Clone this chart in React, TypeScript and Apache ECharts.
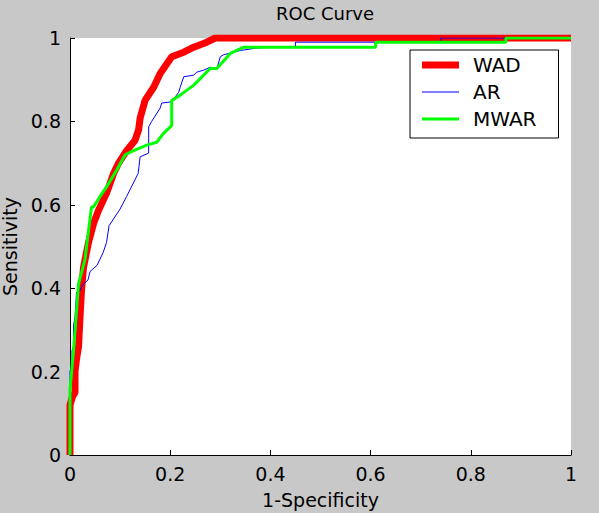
import React, { useEffect, useRef } from "react";
import * as echarts from "echarts";

const TITLE = "ROC Curve";
const X_NAME = "1-Specificity";
const Y_NAME = "Sensitivity";
const SERIES_NAMES = ["WAD", "AR", "MWAR"];

const WAD_X = [0, 0, 0.005, 0.01, 0.01, 0.013, 0.017, 0.02, 0.023, 0.027, 0.037, 0.047, 0.057, 0.073, 0.087, 0.097, 0.113, 0.13, 0.137, 0.14, 0.15, 0.167, 0.18, 0.203, 0.227, 0.247, 0.273, 0.29, 1];
const WAD_Y = [0, 0.12, 0.14, 0.15, 0.2, 0.23, 0.26, 0.33, 0.395, 0.45, 0.51, 0.555, 0.587, 0.628, 0.675, 0.7, 0.73, 0.755, 0.78, 0.808, 0.851, 0.882, 0.915, 0.955, 0.966, 0.978, 0.99, 1, 1];

const AR_X = [0, 0, 0, 0.004, 0.004, 0.007, 0.007, 0.01, 0.013, 0.02, 0.027, 0.036, 0.04, 0.054, 0.066, 0.073, 0.078, 0.1, 0.113, 0.136, 0.14, 0.157, 0.157, 0.163, 0.18, 0.183, 0.203, 0.217, 0.22, 0.227, 0.247, 0.253, 0.267, 0.28, 0.293, 0.3, 0.307, 0.34, 0.373, 0.45, 0.45, 0.74, 0.74, 1];
const AR_Y = [0, 0.19, 0.2, 0.22, 0.25, 0.26, 0.31, 0.33, 0.39, 0.395, 0.41, 0.42, 0.44, 0.455, 0.485, 0.51, 0.55, 0.59, 0.62, 0.675, 0.715, 0.724, 0.787, 0.8, 0.832, 0.844, 0.847, 0.87, 0.882, 0.907, 0.911, 0.918, 0.923, 0.93, 0.925, 0.955, 0.96, 0.97, 0.976, 0.98, 0.99, 0.99, 1, 1];

const MWAR_X = [0, 0, 0.007, 0.017, 0.03, 0.033, 0.043, 0.047, 0.06, 0.073, 0.093, 0.11, 0.127, 0.153, 0.173, 0.187, 0.203, 0.203, 0.22, 0.247, 0.28, 0.293, 0.32, 0.347, 0.61, 0.61, 0.87, 0.87, 1];
const MWAR_Y = [0, 0.156, 0.25, 0.41, 0.47, 0.5, 0.595, 0.595, 0.62, 0.643, 0.683, 0.72, 0.73, 0.743, 0.75, 0.772, 0.79, 0.85, 0.863, 0.887, 0.927, 0.927, 0.963, 0.978, 0.978, 0.99, 0.99, 1, 1];

const COLORS = ["#ff0000", "#0000ff", "#00ff00"];
const WIDTHS = [7, 1, 3];
const FONT = "DejaVu Sans";

function pairs(xs: number[], ys: number[]) {
  return xs.map((x, i) => [x, ys[i]]);
}

export default function App() {
  const ref = useRef<HTMLDivElement>(null);
  useEffect(() => {
    if (!ref.current) return;
    const chart = echarts.init(ref.current, null, { renderer: "svg" });
    const datas = [pairs(WAD_X, WAD_Y), pairs(AR_X, AR_Y), pairs(MWAR_X, MWAR_Y)];
    const axisCommon = {
      type: "value" as const,
      min: 0,
      max: 1,
      interval: 0.2,
      nameLocation: "middle" as const,
      nameTextStyle: { fontFamily: FONT, fontSize: 19, color: "#000" },
      axisLine: { show: true, lineStyle: { color: "#000", width: 1 } },
      axisTick: { show: true, inside: true, length: 5, lineStyle: { color: "#000" } },
      axisLabel: { fontFamily: FONT, fontSize: 19, color: "#000", margin: 9 },
      splitLine: { show: false },
    };
    chart.setOption({
      animation: false,
      backgroundColor: "#c8c8c8",
      title: {
        text: TITLE,
        left: 320,
        top: -1,
        textAlign: "center",
        textStyle: { fontFamily: FONT, fontSize: 18, fontWeight: "normal", color: "#000" },
      },
      grid: {
        left: 70,
        top: 38,
        width: 501,
        height: 417,
        show: true,
        backgroundColor: "#ffffff",
        borderWidth: 0,
        containLabel: false,
        outerBoundsMode: "none",
      },
      xAxis: { ...axisCommon, name: X_NAME, nameGap: 35 },
      yAxis: { ...axisCommon, name: Y_NAME, nameGap: 47 },
      legend: {
        orient: "vertical",
        left: 410,
        top: 50,
        padding: [5, 22, 9, 12],
        itemWidth: 37,
        itemHeight: 14,
        itemGap: 7,
        backgroundColor: "#ffffff",
        borderColor: "#000",
        borderWidth: 1,
        borderRadius: 0,
        textStyle: { fontFamily: FONT, fontSize: 20, color: "#000", padding: [0, 0, 0, 9] },
        data: SERIES_NAMES.map((n, i) => ({
          name: n,
          icon: "path://M0,0h37v" + WIDTHS[i] + "h-37z",
          itemStyle: { color: COLORS[i], borderWidth: 0 },
        })),
      },
      series: SERIES_NAMES.map((n, i) => ({
        name: n,
        type: "line",
        data: datas[i],
        showSymbol: false,
        symbol: "none",
        color: COLORS[i],
        lineStyle: { color: COLORS[i], width: WIDTHS[i] },
        clip: true,
      })),
    });
    return () => chart.dispose();
  }, []);
  return <div ref={ref} style={{ position: "fixed", left: 0, top: 0, width: 599, height: 513 }} />;
}
